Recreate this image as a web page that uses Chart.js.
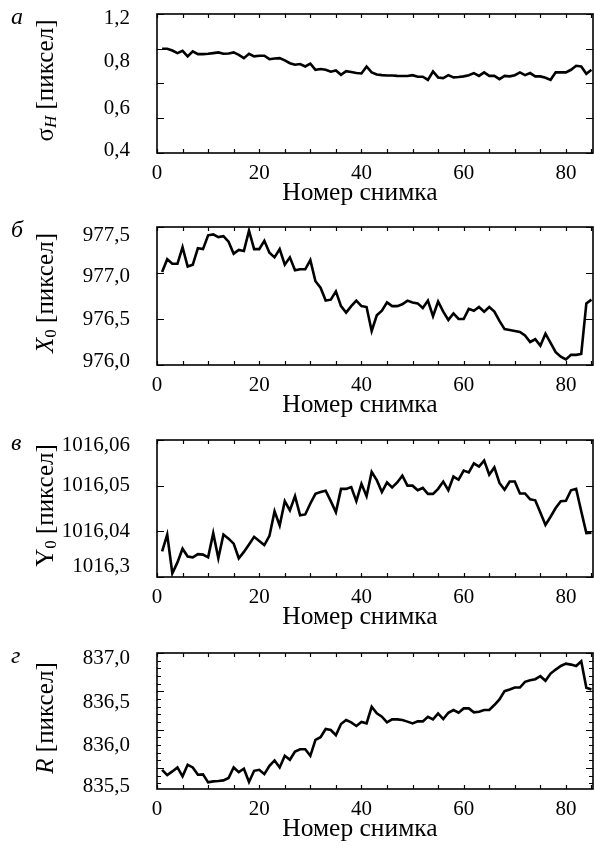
<!DOCTYPE html>
<html>
<head>
<meta charset="utf-8">
<script src="https://cdn.jsdelivr.net/npm/chart.js@4.4.1/dist/chart.umd.min.js"></script>
<style>
  html, body { margin: 0; padding: 0; background: #fff; }
  #wrap { position: relative; width: 594px; height: 849px; }
  canvas { position: absolute; left: 0; }
</style>
</head>
<body>
<div id="wrap">
  <canvas id="pa" width="594" height="212" style="top:0px"></canvas>
  <canvas id="pb" width="594" height="212" style="top:212px"></canvas>
  <canvas id="pc" width="594" height="212" style="top:425px"></canvas>
  <canvas id="pd" width="594" height="212" style="top:637px"></canvas>
</div>
<script>
// frame number (x axis), same for all four panels
const frames = [
  1, 2, 3, 4, 5, 6, 7, 8, 9, 10, 11, 12, 13, 14, 15, 16, 17, 18, 19, 20,
  21, 22, 23, 24, 25, 26, 27, 28, 29, 30, 31, 32, 33, 34, 35, 36, 37, 38, 39, 40,
  41, 42, 43, 44, 45, 46, 47, 48, 49, 50, 51, 52, 53, 54, 55, 56, 57, 58, 59, 60,
  61, 62, 63, 64, 65, 66, 67, 68, 69, 70, 71, 72, 73, 74, 75, 76, 77, 78, 79, 80,
  81, 82, 83, 84, 85
];

// а) sigma_H
const sigmaH = [
  1.000, 1.000, 0.990, 0.975, 0.988, 0.956, 0.985, 0.969, 0.969, 0.971,
  0.975, 0.979, 0.971, 0.973, 0.979, 0.965, 0.946, 0.971, 0.956, 0.960,
  0.960, 0.940, 0.944, 0.946, 0.933, 0.917, 0.908, 0.912, 0.898, 0.914,
  0.879, 0.883, 0.879, 0.868, 0.875, 0.850, 0.871, 0.866, 0.860, 0.858,
  0.898, 0.864, 0.852, 0.848, 0.846, 0.846, 0.844, 0.843, 0.843, 0.848,
  0.839, 0.839, 0.821, 0.869, 0.835, 0.831, 0.848, 0.835, 0.837, 0.841,
  0.848, 0.860, 0.844, 0.864, 0.844, 0.844, 0.825, 0.844, 0.841, 0.848,
  0.864, 0.848, 0.860, 0.841, 0.841, 0.833, 0.821, 0.864, 0.864, 0.864,
  0.879, 0.902, 0.898, 0.856, 0.879
];

// б) X0
const centerX = [
  977.01, 977.15, 977.10, 977.10, 977.28, 977.07, 977.09, 977.27, 977.26, 977.41,
  977.42, 977.39, 977.40, 977.34, 977.21, 977.25, 977.24, 977.46, 977.26, 977.26,
  977.35, 977.22, 977.17, 977.26, 977.09, 977.17, 977.03, 977.04, 977.04, 977.14,
  976.91, 976.84, 976.70, 976.71, 976.80, 976.64, 976.57, 976.64, 976.70, 976.64,
  976.63, 976.37, 976.54, 976.59, 976.68, 976.64, 976.64, 976.66, 976.70, 976.68,
  976.67, 976.62, 976.70, 976.53, 976.69, 976.58, 976.49, 976.56, 976.50, 976.50,
  976.61, 976.59, 976.63, 976.58, 976.63, 976.58, 976.48, 976.39, 976.38, 976.37,
  976.36, 976.32, 976.25, 976.28, 976.21, 976.34, 976.24, 976.14, 976.09, 976.06,
  976.11, 976.11, 976.12, 976.67, 976.71
];

// в) Y0
const centerY = [
  1016.0356, 1016.0393, 1016.0308, 1016.0332, 1016.0362, 1016.0345, 1016.0343, 1016.0350, 1016.0349, 1016.0343,
  1016.0396, 1016.0341, 1016.0393, 1016.0384, 1016.0373, 1016.0341, 1016.0355, 1016.0371, 1016.0388, 1016.0379,
  1016.0370, 1016.0390, 1016.0444, 1016.0413, 1016.0466, 1016.0446, 1016.0477, 1016.0435, 1016.0437, 1016.0461,
  1016.0482, 1016.0486, 1016.0489, 1016.0466, 1016.0442, 1016.0493, 1016.0493, 1016.0497, 1016.0466, 1016.0504,
  1016.0477, 1016.0530, 1016.0512, 1016.0486, 1016.0507, 1016.0496, 1016.0507, 1016.0522, 1016.0500, 1016.0500,
  1016.0490, 1016.0495, 1016.0482, 1016.0482, 1016.0493, 1016.0509, 1016.0490, 1016.0520, 1016.0513, 1016.0533,
  1016.0529, 1016.0549, 1016.0542, 1016.0555, 1016.0524, 1016.0540, 1016.0506, 1016.0491, 1016.0509, 1016.0509,
  1016.0483, 1016.0483, 1016.0470, 1016.0468, 1016.0441, 1016.0414, 1016.0432, 1016.0451, 1016.0466, 1016.0467,
  1016.0490, 1016.0493, 1016.0444, 1016.0396, 1016.0397
];

// г) R
const radius = [
  835.712, 835.653, 835.694, 835.738, 835.639, 835.767, 835.738, 835.657, 835.661, 835.573,
  835.584, 835.588, 835.595, 835.621, 835.738, 835.686, 835.723, 835.577, 835.701, 835.712,
  835.664, 835.756, 835.815, 835.738, 835.866, 835.822, 835.913, 835.939, 835.939, 835.866,
  836.041, 836.071, 836.162, 836.151, 836.093, 836.217, 836.261, 836.235, 836.195, 836.239,
  836.224, 836.407, 836.334, 836.297, 836.235, 836.268, 836.268, 836.261, 836.243, 836.224,
  836.246, 836.246, 836.297, 836.268, 836.334, 836.272, 836.341, 836.371, 836.341, 836.389,
  836.389, 836.345, 836.352, 836.371, 836.371, 836.426, 836.488, 836.579, 836.598, 836.619,
  836.619, 836.682, 836.700, 836.711, 836.744, 836.693, 836.773, 836.817, 836.857, 836.883,
  836.872, 836.857, 836.909, 836.616, 836.598
];

// x axis tick labels
const xTickValues = [0, 20, 40, 60, 80];

// y tick labels, as printed, and where they sit on each value scale
const sigmaLabels = ['1,2', '0,8', '0,6', '0,4'];
const sigmaLabelAt = [1.177, 0.924, 0.659, 0.417];
const xLabels = ['977,5', '977,0', '976,5', '976,0'];
const xLabelAt = [977.413, 976.957, 976.5, 976.033];
const yLabels = ['1016,06', '1016,05', '1016,04', '1016,3'];
const yLabelAt = [1016.0589, 1016.05, 1016.04, 1016.0322];
const rLabels = ['837,0', '836,5', '836,0', '835,5'];
const rLabelAt = [836.942, 836.459, 835.976, 835.525];

const xTitle = 'Номер снимка';
const unit = ' [пиксел]';

const FONT = '"Liberation Serif", "Times New Roman", serif';

const panels = [
  { id: 'pa', letter: 'а', data: sigmaH, min: 0.4, max: 1.2, step: 0.2, minor: 1,
    labels: sigmaLabels, labelAt: sigmaLabelAt, padTop: 14, axisH: 59,
    ytitle: [{ t: 'σ' }, { t: 'H', it: true, sub: true }, { t: unit }] },
  { id: 'pb', letter: 'б', data: centerX, min: 976.0, max: 977.5, step: 0.5, minor: 1,
    labels: xLabels, labelAt: xLabelAt, padTop: 15, axisH: 59,
    ytitle: [{ t: 'X', it: true }, { t: '0', sub: true }, { t: unit }] },
  { id: 'pc', letter: 'в', data: centerY, min: 1016.03, max: 1016.06, step: 0.01, minor: 1,
    labels: yLabels, labelAt: yLabelAt, padTop: 15, axisH: 60,
    ytitle: [{ t: 'Y' }, { t: '0', sub: true }, { t: unit }] },
  { id: 'pd', letter: 'г', data: radius, min: 835.5, max: 837.0, step: 0.4227, minor: 5,
    labels: rLabels, labelAt: rLabelAt, padTop: 16, axisH: 60,
    ytitle: [{ t: 'R', it: true }, { t: unit }] }
];

function decoPlugin(p) {
  return {
    id: 'deco',
    afterDatasetsDraw(chart) {
      const ctx = chart.ctx;
      const a = chart.chartArea;
      const xs = chart.scales.x;
      const ys = chart.scales.y;
      ctx.save();
      ctx.strokeStyle = '#000';
      ctx.lineWidth = 1.6;
      ctx.strokeRect(a.left, a.top, a.right - a.left, a.bottom - a.top);

      // x ticks every 5 frames, inward, bottom and top
      ctx.lineWidth = 1.2;
      ctx.beginPath();
      for (let v = 0; v <= xs.max; v += 5) {
        const px = Math.round(xs.getPixelForValue(v)) + 0.5;
        ctx.moveTo(px, a.bottom); ctx.lineTo(px, a.bottom - 4);
        ctx.moveTo(px, a.top); ctx.lineTo(px, a.top + 4);
      }
      // y ticks, major and minor, left and right
      const sub = p.step / p.minor;
      let k = 0;
      for (let v = p.max; v >= p.min - 1e-9; v -= sub, k++) {
        const py = Math.round(ys.getPixelForValue(v)) + 0.5;
        const len = (k % p.minor === 0) ? 7 : 4;
        ctx.moveTo(a.left, py); ctx.lineTo(a.left + len, py);
        ctx.moveTo(a.right, py); ctx.lineTo(a.right - len, py);
      }
      ctx.stroke();

      ctx.fillStyle = '#000';
      // x title
      ctx.font = '25.5px ' + FONT;
      ctx.textAlign = 'center';
      ctx.textBaseline = 'middle';
      ctx.fillText(xTitle, xs.getPixelForValue(39.7), a.bottom + 40);

      // panel letter
      ctx.font = 'italic 24px ' + FONT;
      ctx.textAlign = 'left';
      ctx.textBaseline = 'alphabetic';
      ctx.fillText(p.letter, 11, a.top + 10);

      // rotated y title with subscript
      ctx.translate(46, (a.top + a.bottom) / 2 - 3);
      ctx.rotate(-Math.PI / 2);
      const parts = p.ytitle.map(s => {
        const f = (s.it ? 'italic ' : '') + (s.sub ? '17px ' : '25px ') + FONT;
        ctx.font = f;
        return { t: s.t, f: f, w: ctx.measureText(s.t).width, dy: s.sub ? 6 : 0 };
      });
      let x = -parts.reduce((acc, s) => acc + s.w, 0) / 2;
      ctx.textBaseline = 'middle';
      parts.forEach(s => {
        ctx.font = s.f;
        ctx.fillText(s.t, x, s.dy);
        x += s.w;
      });
      ctx.restore();
    }
  };
}

panels.forEach(p => {
  new Chart(document.getElementById(p.id), {
    type: 'line',
    data: {
      labels: frames,
      datasets: [{
        data: p.data,
        borderColor: '#000',
        borderWidth: 2.6,
        pointRadius: 0,
        tension: 0,
        fill: false
      }]
    },
    options: {
      responsive: false,
      animation: false,
      devicePixelRatio: 1,
      layout: { padding: { top: p.padTop, right: 1, left: 0, bottom: 0 } },
      plugins: { legend: { display: false }, tooltip: { enabled: false } },
      scales: {
        x: {
          type: 'linear',
          min: 0,
          max: 85.3,
          grid: { display: false },
          border: { display: false },
          afterBuildTicks: s => { s.ticks = xTickValues.map(v => ({ value: v })); },
          afterFit: s => {
            s.height = p.axisH;
            s.paddingLeft = 0; s.paddingRight = 0;
          },
          ticks: {
            autoSkip: false,
            maxRotation: 0,
            padding: 0,
            color: '#000',
            font: { family: FONT, size: 21 },
            callback: v => String(v)
          }
        },
        y: {
          min: p.min,
          max: p.max,
          grid: { display: false },
          border: { display: false },
          afterBuildTicks: s => { s.ticks = p.labelAt.map(v => ({ value: v })); },
          afterFit: s => {
            s.width = 157;
            s.paddingTop = 0; s.paddingBottom = 0;
          },
          ticks: {
            autoSkip: false,
            padding: 19,
            color: '#000',
            font: { family: FONT, size: 21 },
            callback: (v, i) => p.labels[i]
          }
        }
      }
    },
    plugins: [decoPlugin(p)]
  });
});
</script>
</body>
</html>
